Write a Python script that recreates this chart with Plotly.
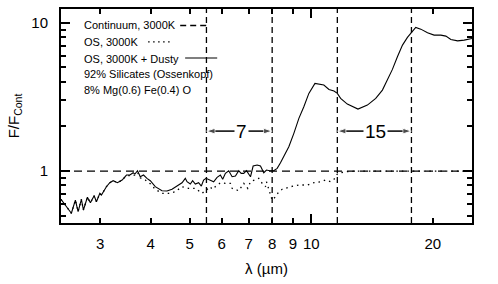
import math
import plotly.graph_objects as go

# ---- data ----
wl_dusty = [2.40, 2.546, 2.605, 2.646, 2.696, 2.727, 2.790, 2.838, 2.899, 2.938, 2.995, 3.022, 3.109, 3.170,
            3.231, 3.311, 3.401, 3.486, 3.555, 3.622, 3.658, 3.713, 3.771, 3.842, 3.918, 3.993, 4.108, 4.268,
            4.391, 4.519, 4.650, 4.785, 4.876, 4.923, 5.017, 5.083, 5.162, 5.260, 5.342, 5.412, 5.488, 5.623,
            5.731, 5.844, 5.955, 6.034, 6.128, 6.245, 6.367, 6.488, 6.612, 6.703, 6.804, 6.910, 7.002, 7.070,
            7.178, 7.344, 7.484, 7.626, 7.745, 7.890, 8.072, 8.232, 8.389, 8.550, 8.797, 9.053, 9.316, 9.584,
            9.862, 10.21, 10.44, 10.74, 11.06, 11.38, 11.60, 11.82, 12.28, 13.05, 13.77, 14.44, 15.00, 15.44,
            15.88, 16.34, 16.82, 17.30, 17.80, 18.14, 18.67, 19.40, 20.14, 20.93, 21.54, 22.16, 23.03, 23.91, 25.0]
f_dusty = [0.644, 0.519, 0.637, 0.532, 0.644, 0.546, 0.665, 0.611, 0.681, 0.621, 0.707, 0.689, 0.784, 0.834,
           0.860, 0.834, 0.870, 0.940, 0.940, 0.974, 0.954, 1.005, 0.915, 0.940, 0.893, 0.860, 0.784, 0.736,
           0.733, 0.753, 0.792, 0.834, 0.893, 0.847, 0.817, 0.860, 0.817, 0.834, 0.792, 0.870, 0.893, 0.870,
           0.847, 0.907, 0.940, 0.879, 0.965, 1.005, 0.915, 0.925, 1.005, 0.965, 0.965, 1.005, 0.940, 0.915,
           1.081, 1.098, 1.081, 0.974, 1.016, 1.005, 1.005, 1.043, 1.137, 1.248, 1.458, 1.796, 2.267, 2.715,
           3.342, 3.904, 3.861, 3.802, 3.555, 3.463, 3.342, 3.092, 2.830, 2.619, 2.786, 3.092, 3.517, 4.108,
           4.851, 5.898, 7.073, 7.973, 8.835, 9.311, 9.068, 8.562, 8.263, 8.263, 8.135, 7.729, 7.562, 7.645, 7.85]

wl_os = [2.40, 2.546, 2.605, 2.646, 2.696, 2.727, 2.790, 2.838, 2.899, 2.938, 2.995, 3.022, 3.109, 3.170,
         3.231, 3.311, 3.401, 3.486, 3.555, 3.595, 3.658, 3.713, 3.771, 3.880, 3.993, 4.108, 4.268, 4.432,
         4.604, 4.785, 4.969, 5.162, 5.364, 5.623, 5.679, 5.955, 6.128, 6.305, 6.367, 6.612, 6.804, 6.961,
         7.070, 7.412, 7.556, 7.700, 7.745, 8.00, 8.154, 8.310, 8.472, 8.884, 9.316, 9.772, 10.15, 10.54,
         10.85, 11.16, 11.38, 11.60, 11.82, 12.16, 13.0, 15.0, 20.0, 25.0]
f_os = [0.644, 0.519, 0.637, 0.532, 0.644, 0.546, 0.665, 0.611, 0.681, 0.621, 0.707, 0.689, 0.784, 0.834,
        0.860, 0.834, 0.870, 0.930, 0.930, 0.925, 0.940, 0.980, 0.900, 0.870, 0.820, 0.753, 0.707, 0.707,
        0.725, 0.784, 0.764, 0.764, 0.707, 0.784, 0.753, 0.834, 0.826, 0.826, 0.764, 0.736, 0.826, 0.764,
        0.847, 0.893, 0.826, 0.784, 0.847, 0.637, 0.671, 0.725, 0.753, 0.784, 0.805, 0.805, 0.834, 0.847,
        0.870, 0.847, 0.879, 0.954, 0.974, 0.990, 1.0, 1.0, 1.0, 1.0]

wl_cont = [2.40, 25.0]
f_cont = [1.0, 1.0]

boundaries = [5.5, 8.0, 11.6, 17.7]
bands = [(5.5, 8.0, 6.71, "7"), (11.6, 17.7, 14.44, "15")]
band_label_y = 1.86

legend_lines = ["Continuum, 3000K", "OS, 3000K", "OS, 3000K + Dusty",
                "92% Silicates (Ossenkopf)", "8% Mg(0.6) Fe(0.4) O"]

x_ticks = [3, 4, 5, 6, 7, 8, 9, 10, 20]
x_range = [2.4, 25.0]
y_range = [0.446, 12.4]
y_major = [1, 10]
y_minor = [0.5, 0.6, 0.7, 0.8, 0.9, 2, 3, 4, 5, 6, 7, 8, 9]

# ---- figure ----
fig = go.Figure()

for b in boundaries:
    fig.add_trace(go.Scatter(x=[b, b], y=y_range, mode="lines",
                             line=dict(color="black", width=1.3, dash="6px,4px"), hoverinfo="skip"))

fig.add_trace(go.Scatter(x=wl_cont, y=f_cont, mode="lines",
                         line=dict(color="black", width=1.3, dash="8px,5px")))
fig.add_trace(go.Scatter(x=wl_os, y=f_os, mode="lines",
                         line=dict(color="black", width=1.3, dash="1.5px,4px")))
fig.add_trace(go.Scatter(x=wl_dusty, y=f_dusty, mode="lines",
                         line=dict(color="black", width=1.1)))

# band arrows: line from band centre to each boundary, arrowhead at the boundary
for lo, hi, mid, lab in bands:
    for end in (lo, hi):
        fig.add_trace(go.Scatter(x=[mid, end], y=[band_label_y, band_label_y], mode="lines+markers",
                                 line=dict(color="black", width=1.5),
                                 marker=dict(symbol="arrow", angleref="previous", size=[0, 9],
                                             color="black"),
                                 hoverinfo="skip"))

annotations = []
for lo, hi, mid, lab in bands:
    annotations.append(dict(x=math.log10(mid), y=math.log10(band_label_y), xref="x", yref="y", text=lab,
                            showarrow=False, bgcolor="white", borderpad=1,
                            font=dict(size=19, color="black")))

leg_y = [0.923, 0.846, 0.768, 0.694, 0.622]
for txt, yy in zip(legend_lines, leg_y):
    annotations.append(dict(x=0.051, y=yy, xref="paper", yref="paper", text=txt,
                            showarrow=False, xanchor="left", yanchor="middle",
                            font=dict(size=11, color="black")))

shapes = [
    dict(type="line", xref="paper", yref="paper", x0=0.29, x1=0.36, y0=0.923, y1=0.923,
         line=dict(color="black", width=1.3, dash="6px,4px")),
    dict(type="line", xref="paper", yref="paper", x0=0.212, x1=0.272, y0=0.846, y1=0.846,
         line=dict(color="black", width=1.3, dash="1.5px,3.5px")),
    dict(type="line", xref="paper", yref="paper", x0=0.302, x1=0.38, y0=0.771, y1=0.771,
         line=dict(color="black", width=1.1)),
]

fig.update_layout(
    width=498, height=284,
    margin=dict(l=61, r=26, t=9, b=61),
    plot_bgcolor="white", paper_bgcolor="white",
    showlegend=False,
    font=dict(family="Liberation Sans, Arial, sans-serif", color="black"),
    annotations=annotations, shapes=shapes,
)

fig.update_xaxes(
    type="log", range=[math.log10(x_range[0]), math.log10(x_range[1])],
    tickvals=x_ticks, ticktext=[str(t) for t in x_ticks],
    ticks="inside", ticklen=5, tickwidth=1.5, tickcolor="black",
    minor=dict(tickvals=[10], ticks="inside", ticklen=9, tickwidth=1.5, tickcolor="black"),
    showline=True, linewidth=2, linecolor="black", mirror="ticks",
    showgrid=False, zeroline=False, tickfont=dict(size=15), ticklabelstandoff=6,
    title=dict(text="λ (µm)", font=dict(size=15), standoff=12), automargin=False,
)
fig.update_yaxes(
    type="log", range=[math.log10(y_range[0]), math.log10(y_range[1])],
    tickvals=y_major, ticktext=[str(t) for t in y_major],
    ticks="inside", ticklen=9, tickwidth=1.5, tickcolor="black",
    minor=dict(tickvals=y_minor, ticks="inside", ticklen=5, tickwidth=1.5, tickcolor="black"),
    showline=True, linewidth=2, linecolor="black", mirror="ticks",
    showgrid=False, zeroline=False, tickfont=dict(size=15), ticklabelstandoff=8,
    title=dict(text="F/F<sub>Cont</sub>", font=dict(size=15), standoff=8), automargin=False,
)

fig.write_html("out.html", config={"displayModeBar": False},
               post_script="document.body.style.margin='0px';")
